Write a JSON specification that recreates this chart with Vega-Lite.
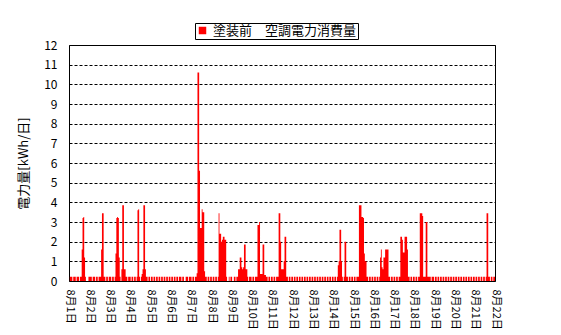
{
"$schema": "https://vega.github.io/schema/vega-lite/v6.json",
"autosize": "none",
"width": 426,
"height": 236,
"padding": {"left": 69, "top": 45, "right": 66, "bottom": 54},
"background": "white",
"config": {"font": "Noto Sans CJK JP", "view": {"stroke": "black", "strokeWidth": 1}},
"data": {"values": [
{"h":0,"v":0},{"h":1,"v":0.22},{"h":4,"v":0},{"h":5,"v":0.22},{"h":8,"v":0},{"h":9,"v":0.22},{"h":12,"v":0},{"h":13,"v":0.22},{"h":15,"v":1.6},{"h":16,"v":3.2},{"h":17,"v":3.25},{"h":18,"v":1.2},{"h":19,"v":0.22},{"h":20,"v":0},{"h":23,"v":0.22},
{"h":27,"v":0},{"h":28,"v":0.22},{"h":31,"v":0},{"h":32,"v":0.22},{"h":34,"v":0},{"h":35,"v":0.22},{"h":38,"v":1.6},{"h":39,"v":3.45},{"h":41,"v":0.22},{"h":43,"v":0},{"h":44,"v":0.22},{"h":46,"v":0},{"h":47,"v":0.22},
{"h":50,"v":0},{"h":51,"v":0.22},{"h":53,"v":0},{"h":54,"v":0.22},{"h":55,"v":1.4},{"h":56,"v":3.2},{"h":57,"v":3.25},{"h":58,"v":3.2},{"h":59,"v":1.2},{"h":60,"v":0.22},{"h":61,"v":0},{"h":62,"v":0.6},{"h":63,"v":3.85},{"h":65,"v":0.6},{"h":67,"v":0.22},{"h":69,"v":0},{"h":70,"v":0.22},
{"h":73,"v":0},{"h":74,"v":0.22},{"h":76,"v":0},{"h":77,"v":0.22},{"h":79,"v":0},{"h":80,"v":0.22},{"h":81,"v":3.6},{"h":82,"v":3.65},{"h":83,"v":0.22},{"h":84,"v":0},{"h":85,"v":0.22},{"h":86,"v":0.35},{"h":87,"v":0.6},{"h":88,"v":3.85},{"h":90,"v":0.6},{"h":91,"v":0.22},{"h":93,"v":0},{"h":94,"v":0.22},
{"h":96,"v":0},{"h":97,"v":0.22},{"h":99,"v":0},{"h":100,"v":0.22},{"h":102,"v":0},{"h":103,"v":0.22},{"h":105,"v":0},{"h":106,"v":0.22},{"h":108,"v":0},{"h":109,"v":0.22},{"h":111,"v":0},{"h":112,"v":0.22},{"h":114,"v":0},{"h":115,"v":0.22},{"h":117,"v":0},{"h":118,"v":0.22},
{"h":120,"v":0},{"h":121,"v":0.22},{"h":123,"v":0},{"h":124,"v":0.22},{"h":126,"v":0},{"h":127,"v":0.22},{"h":129,"v":0},{"h":130,"v":0.22},{"h":133,"v":0},{"h":134,"v":0.22},{"h":136,"v":0},{"h":138,"v":0.22},{"h":141,"v":0},{"h":142,"v":0.22},
{"h":145,"v":0},{"h":146,"v":0.22},{"h":148,"v":0},{"h":149,"v":0.22},{"h":151,"v":0.4},{"h":152,"v":10.6},{"h":154,"v":5.6},{"h":155,"v":2.7},{"h":157,"v":3.65},{"h":158,"v":3.5},{"h":160,"v":0.5},{"h":161,"v":0.22},{"h":163,"v":0},{"h":164,"v":0.22},{"h":166,"v":0},{"h":167,"v":0.22},
{"h":169,"v":0},{"h":170,"v":0.22},{"h":172,"v":0},{"h":173,"v":0.22},{"h":175,"v":0},{"h":176,"v":0.22},{"h":177,"v":3.45},{"h":178,"v":2.4},{"h":180,"v":2.0},{"h":181,"v":2.1},{"h":182,"v":2.25},{"h":184,"v":2.1},{"h":186,"v":0.22},{"h":187,"v":0},{"h":189,"v":0.22},{"h":190,"v":0},{"h":191,"v":0.22},
{"h":193,"v":0},{"h":195,"v":0.22},{"h":197,"v":0},{"h":198,"v":0.22},{"h":200,"v":0.6},{"h":202,"v":1.2},{"h":204,"v":0.7},{"h":205,"v":0.6},{"h":206,"v":0.7},{"h":207,"v":1.85},{"h":209,"v":0.6},{"h":211,"v":0.22},{"h":212,"v":0},{"h":213,"v":0.22},
{"h":216,"v":0},{"h":217,"v":0.22},{"h":219,"v":0},{"h":220,"v":0.22},{"h":223,"v":2.85},{"h":225,"v":3.0},{"h":226,"v":0.35},{"h":229,"v":1.85},{"h":231,"v":0.3},{"h":233,"v":0.22},{"h":235,"v":0},{"h":236,"v":0.22},{"h":238,"v":0},{"h":239,"v":0.22},
{"h":241,"v":0},{"h":242,"v":0.22},{"h":244,"v":0},{"h":245,"v":0.22},{"h":248,"v":3.45},{"h":250,"v":2.0},{"h":251,"v":0.6},{"h":254,"v":1.0},{"h":255,"v":2.25},{"h":257,"v":0.22},{"h":259,"v":0},{"h":260,"v":0.22},{"h":262,"v":0},{"h":263,"v":0.22},
{"h":265,"v":0},{"h":266,"v":0.22},{"h":268,"v":0},{"h":269,"v":0.22},{"h":271,"v":0},{"h":272,"v":0.22},{"h":274,"v":0},{"h":275,"v":0.22},{"h":277,"v":0},{"h":278,"v":0.22},{"h":280,"v":0},{"h":281,"v":0.22},{"h":283,"v":0},{"h":284,"v":0.22},{"h":286,"v":0},{"h":287,"v":0.22},
{"h":289,"v":0},{"h":290,"v":0.22},{"h":292,"v":0},{"h":293,"v":0.22},{"h":295,"v":0},{"h":296,"v":0.22},{"h":298,"v":0},{"h":299,"v":0.22},{"h":301,"v":0},{"h":302,"v":0.22},{"h":304,"v":0},{"h":305,"v":0.22},{"h":307,"v":0},{"h":308,"v":0.22},{"h":310,"v":0},{"h":311,"v":0.22},
{"h":313,"v":0},{"h":314,"v":0.22},{"h":316,"v":0},{"h":317,"v":0.22},{"h":318,"v":0.8},{"h":319,"v":1.0},{"h":320,"v":2.6},{"h":322,"v":1.0},{"h":323,"v":0.22},{"h":324,"v":0},{"h":325,"v":0.22},{"h":326,"v":2.0},{"h":328,"v":0.22},{"h":330,"v":0},{"h":331,"v":0.22},{"h":333,"v":0},{"h":334,"v":0.22},
{"h":336,"v":0},{"h":337,"v":0.22},{"h":339,"v":0},{"h":340,"v":0.22},{"h":343,"v":3.85},{"h":346,"v":3.25},{"h":348,"v":3.2},{"h":349,"v":1.4},{"h":350,"v":1.0},{"h":352,"v":0.22},{"h":354,"v":0},{"h":355,"v":0.22},{"h":357,"v":0},{"h":358,"v":0.22},
{"h":360,"v":0},{"h":361,"v":0.22},{"h":363,"v":0},{"h":364,"v":0.22},{"h":366,"v":0},{"h":367,"v":0.22},{"h":368,"v":1.2},{"h":369,"v":1.6},{"h":370,"v":0.7},{"h":371,"v":0.6},{"h":372,"v":1.2},{"h":374,"v":1.6},{"h":378,"v":0.22},{"h":380,"v":0},{"h":381,"v":0.22},{"h":383,"v":0},
{"h":384,"v":0.22},{"h":386,"v":0},{"h":387,"v":0.22},{"h":389,"v":0},{"h":390,"v":0.22},{"h":392,"v":2.25},{"h":394,"v":2.1},{"h":395,"v":1.45},{"h":397,"v":2.25},{"h":400,"v":1.6},{"h":401,"v":0.22},{"h":403,"v":0},{"h":404,"v":0.22},{"h":406,"v":0},{"h":407,"v":0.22},
{"h":409,"v":0},{"h":410,"v":0.22},{"h":412,"v":0},{"h":413,"v":0.22},{"h":415,"v":3.45},{"h":418,"v":3.3},{"h":419,"v":0.22},{"h":422,"v":3.0},{"h":424,"v":0.22},{"h":428,"v":0},{"h":429,"v":0.22},
{"h":432,"v":0},{"h":433,"v":0.22},{"h":435,"v":0},{"h":436,"v":0.22},{"h":438,"v":0},{"h":439,"v":0.22},{"h":441,"v":0},{"h":442,"v":0.22},{"h":444,"v":0},{"h":445,"v":0.22},{"h":447,"v":0},{"h":448,"v":0.22},{"h":450,"v":0},{"h":451,"v":0.22},{"h":453,"v":0},{"h":454,"v":0.22},
{"h":456,"v":0},{"h":457,"v":0.22},{"h":459,"v":0},{"h":460,"v":0.22},{"h":462,"v":0},{"h":463,"v":0.22},{"h":465,"v":0},{"h":466,"v":0.22},{"h":468,"v":0},{"h":469,"v":0.22},{"h":471,"v":0},{"h":472,"v":0.22},{"h":474,"v":0},{"h":475,"v":0.22},{"h":477,"v":0},{"h":478,"v":0.22},
{"h":480,"v":0},{"h":481,"v":0.22},{"h":483,"v":0},{"h":484,"v":0.22},{"h":486,"v":0},{"h":487,"v":0.22},{"h":489,"v":0},{"h":490,"v":0.22},{"h":492,"v":0},{"h":493,"v":0.22},{"h":494,"v":3.45},{"h":496,"v":0.22},{"h":498,"v":0},{"h":499,"v":0.22},{"h":501,"v":0},{"h":502,"v":0.22},{"h":504,"v":0.22}
]},
"mark": {"type": "area", "interpolate": "step-after", "opacity": 1},
"encoding": {
"x": {"field": "h", "type": "quantitative",
 "scale": {"domain": [0, 504], "nice": false, "zero": false},
 "axis": {"values": [0,24,48,72,96,120,144,168,192,216,240,264,288,312,336,360,384,408,432,456,480,504],
  "labelExpr": "'8月' + (datum.value/24+1) + '日'", "labelAngle": 90, "ticks": false, "domain": false, "grid": false,
  "title": null, "labelFontSize": 11, "labelPadding": 8, "labelColor": "black", "labelFlush": false, "labelOverlap": false}},
"y": {"field": "v", "type": "quantitative",
 "scale": {"domain": [0, 12], "nice": false},
 "axis": {"values": [0,1,2,3,4,5,6,7,8,9,10,11,12], "grid": true, "gridDash": [3,2], "gridColor": "black", "gridOpacity": 1,
  "domain": false, "ticks": false, "labelPadding": 12, "labelFontSize": 12, "labelColor": "black",
  "title": "電力量[kWh/日]", "titleFontSize": 13, "titleFontWeight": "normal", "titlePadding": 13, "titleColor": "black"}},
"color": {"datum": "塗装前　空調電力消費量", "type": "nominal",
 "scale": {"range": ["#ff0000"]},
 "legend": {"orient": "none", "legendX": 126, "legendY": -22, "title": null, "strokeColor": "black", "padding": 1,
  "symbolType": "square", "symbolSize": 56, "symbolStrokeWidth": 0, "labelFontSize": 13, "labelColor": "black",
  "fillColor": "white", "direction": "horizontal"}}
}
}
